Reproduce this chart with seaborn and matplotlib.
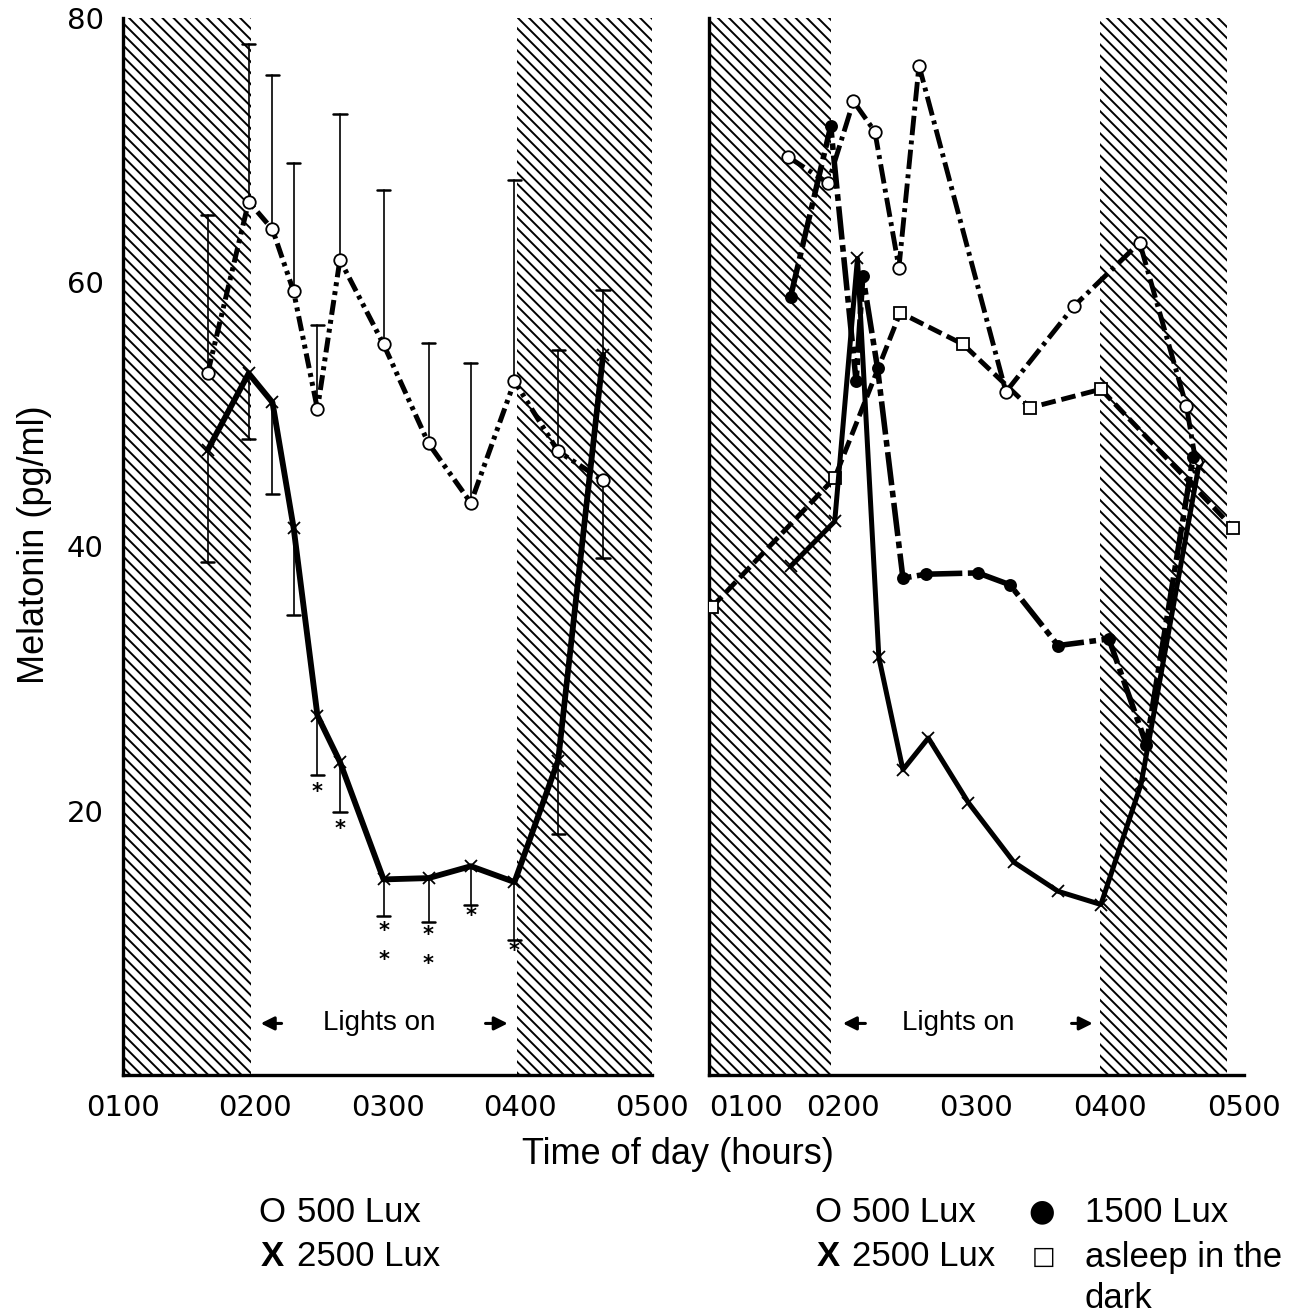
import matplotlib
matplotlib.use("Agg")
import matplotlib.pyplot as plt
import pandas as pd
import seaborn as sns

# ---- left panel: 500 vs 2500 lux (mean + one-sided error bar end) ----
t_left = [1.64, 1.95, 2.13, 2.29, 2.47, 2.64, 2.97, 3.31, 3.63, 3.96, 4.29, 4.63]
lux500_left = [53.1, 66.1, 64.0, 59.3, 50.4, 61.7, 55.3, 47.8, 43.3, 52.5, 47.2, 45.0]
lux500_left_bar = [65.1, 78.0, 75.7, 69.0, 56.8, 72.7, 67.0, 55.4, 53.9, 67.7, 54.9, 39.1]
lux2500_left = [47.3, 53.1, 50.9, 41.4, 27.2, 23.7, 14.8, 14.9, 15.8, 14.6, 23.8, 54.5]
lux2500_left_bar = [38.8, 48.1, 44.0, 34.8, 22.7, 19.9, 12.0, 11.6, 12.9, 10.2, 18.2, 59.4]

# significance stars (left panel)
star_t = [2.47, 2.64, 2.97, 2.97, 3.31, 3.31, 3.63, 3.96]
star_y = [21.4, 18.6, 10.9, 8.7, 10.6, 8.4, 12.0, 9.4]

# ---- right panel: single subjects ----
t500_right = [1.59, 1.89, 2.08, 2.24, 2.42, 2.57, 3.22, 3.73, 4.22, 4.57, 4.64]
lux500_right = [69.5, 67.5, 73.7, 71.4, 61.1, 76.4, 51.7, 58.2, 63.0, 50.6, 46.4]

t1500_right = [1.61, 1.91, 2.10, 2.15, 2.26, 2.45, 2.62, 3.01, 3.25, 3.61, 3.99, 4.27, 4.62]
lux1500_right = [58.9, 71.8, 52.5, 60.5, 53.5, 37.6, 37.9, 38.0, 37.1, 32.5, 33.0, 25.0, 46.8]

t2500_right = [1.61, 1.94, 2.11, 2.27, 2.45, 2.64, 2.94, 3.28, 3.61, 3.93, 4.23, 4.66]
lux2500_right = [38.5, 41.9, 61.8, 31.6, 23.1, 25.5, 20.6, 16.1, 13.9, 12.9, 22.0, 46.0]

t_dark_right = [1.02, 1.94, 2.43, 2.90, 3.40, 3.93, 4.92]
asleep_dark = [35.4, 45.2, 57.7, 55.3, 50.5, 51.9, 41.4]

# dark (hatched) periods, hours
dark_left = [(1.0, 1.97), (3.98, 5.0)]
dark_right = [(1.0, 1.91), (3.92, 4.87)]

hour_ticks = [1, 2, 3, 4, 5]
hour_labels = ["0100", "0200", "0300", "0400", "0500"]

sns.set_theme(style="white")
plt.rcParams["font.family"] = ["DejaVu Sans"]
plt.rcParams["text.color"] = "black"
plt.rcParams["axes.labelcolor"] = "black"
plt.rcParams["xtick.color"] = "black"
plt.rcParams["ytick.color"] = "black"
plt.rcParams["hatch.linewidth"] = 1.4
label_font = ["Liberation Sans", "DejaVu Sans"]

fig = plt.figure(figsize=(12.95, 13.13), dpi=100)
ax_l = fig.add_axes([0.095, 0.1813, 0.4085, 0.805])
ax_r = fig.add_axes([0.5475, 0.1813, 0.4131, 0.805])


def draw_series(ax, t, y, ls, lw, marker, ms, mfc, mew=1.3):
    df = pd.DataFrame({"t": t, "y": y})
    sns.lineplot(data=df, x="t", y="y", ax=ax, sort=False, estimator=None,
                 color="black", linewidth=lw, linestyle=ls, marker=marker,
                 markersize=ms, markerfacecolor=mfc, markeredgecolor="black",
                 markeredgewidth=mew, zorder=3)


def draw_bars(ax, t, y, ends, half=0.05):
    for ti, yi, ei in zip(t, y, ends):
        ax.plot([ti, ti], [yi, ei], color="black", lw=1.2, zorder=2)
        ax.plot([ti - half, ti + half], [ei, ei], color="black", lw=1.8, zorder=2)


for ax, dark in [(ax_l, dark_left), (ax_r, dark_right)]:
    for a, b in dark:
        ax.axvspan(a, b, facecolor="white", edgecolor="black", hatch="\\\\\\",
                   linewidth=0, zorder=0)

# left panel
draw_bars(ax_l, t_left, lux500_left, lux500_left_bar)
draw_bars(ax_l, t_left, lux2500_left, lux2500_left_bar)
draw_series(ax_l, t_left, lux500_left, (0, (3, 1, 0.8, 1, 0.8, 1)), 3.6, "o", 9, "white")
draw_series(ax_l, t_left, lux2500_left, "-", 4.2, "x", 9, "white")
for st, sy in zip(star_t, star_y):
    ax_l.text(st, sy, "*", ha="center", va="center", fontsize=15,
              fontweight="bold")

# right panel
draw_series(ax_r, t_dark_right, asleep_dark, (0, (3, 1.2)), 3.5, "s", 9, "white")
draw_series(ax_r, t500_right, lux500_right, (0, (4, 1.1, 0.8, 1.1)), 3.5, "o", 9, "white")
draw_series(ax_r, t1500_right, lux1500_right, (0, (6, 1, 1.2, 1)), 4.0, "o", 8, "black")
draw_series(ax_r, t2500_right, lux2500_right, "-", 3.6, "x", 9, "white")

# lights-on annotations
for ax, a0, a1, tc, b0, b1 in [(ax_l, 2.22, 2.02, 2.94, 3.72, 3.93),
                               (ax_r, 2.19, 1.98, 2.86, 3.69, 3.89)]:
    ax.text(tc, 3.9, "Lights on", ha="center", va="center", fontsize=20,
            family=label_font)
    ax.annotate("", xy=(a1, 3.9), xytext=(a0, 3.9),
                arrowprops=dict(arrowstyle="-|>", color="black", lw=2.2,
                                mutation_scale=20))
    ax.annotate("", xy=(b1, 3.9), xytext=(b0, 3.9),
                arrowprops=dict(arrowstyle="-|>", color="black", lw=2.2,
                                mutation_scale=20))

for ax in (ax_l, ax_r):
    ax.set_xlim(1.0, 5.0)
    ax.set_ylim(0, 80)
    ax.set_xlabel("")
    ax.set_ylabel("")
    ax.set_facecolor("white")
    for side in ("top", "right"):
        ax.spines[side].set_visible(False)
    ax.spines["left"].set_linewidth(2.4)
    ax.spines["bottom"].set_linewidth(2.4)
    ax.spines["left"].set_color("black")
    ax.spines["bottom"].set_color("black")
    ax.set_xticks(hour_ticks)
    ax.set_xticklabels(hour_labels)
    ax.set_yticks(range(0, 81, 10))
    ax.tick_params(axis="both", direction="in", length=7, width=1.5,
                   color="black", labelsize=21, labelcolor="black")
    ax.tick_params(axis="x", pad=14)
    ax.tick_params(axis="y", pad=14)

ax_l.set_yticklabels(["", "", "20", "", "40", "", "60", "", "80"])
ax_r.set_yticklabels([])
ax_r.get_xticklabels()[0].set_horizontalalignment("left")

fig.text(35 / 1295, 1 - 545 / 1313, "Melatonin (pg/ml)", rotation=90,
         ha="center", va="center", fontsize=26, family=label_font)
fig.text(678 / 1295, 1 - 1155 / 1313, "Time of day (hours)", ha="center",
         va="center", fontsize=26, family=label_font)

# legends, written as text like the original figure
leg_kw = dict(va="center", fontsize=25, family=label_font)
fig.text(258 / 1295, 1 - 1212 / 1313, "O", **leg_kw)
fig.text(297 / 1295, 1 - 1212 / 1313, "500 Lux", **leg_kw)
fig.text(261 / 1295, 1 - 1257 / 1313, "X", fontweight="bold", **leg_kw)
fig.text(297 / 1295, 1 - 1257 / 1313, "2500 Lux", **leg_kw)

fig.text(814 / 1295, 1 - 1212 / 1313, "O", **leg_kw)
fig.text(852 / 1295, 1 - 1212 / 1313, "500 Lux", **leg_kw)
fig.text(817 / 1295, 1 - 1257 / 1313, "X", fontweight="bold", **leg_kw)
fig.text(852 / 1295, 1 - 1257 / 1313, "2500 Lux", **leg_kw)
fig.text(1028 / 1295, 1 - 1212 / 1313, "\u25CF", va="center", fontsize=22,
         family=["DejaVu Sans"])
fig.text(1085 / 1295, 1 - 1212 / 1313, "1500 Lux", **leg_kw)
fig.text(1032 / 1295, 1 - 1257 / 1313, "\u25A1", va="center", fontsize=18,
         family=["DejaVu Sans"])
fig.text(1085 / 1295, 1 - 1257 / 1313, "asleep in the", **leg_kw)
fig.text(1085 / 1295, 1 - 1298 / 1313, "dark", **leg_kw)

fig.savefig("out.png", dpi=100, facecolor="white")
